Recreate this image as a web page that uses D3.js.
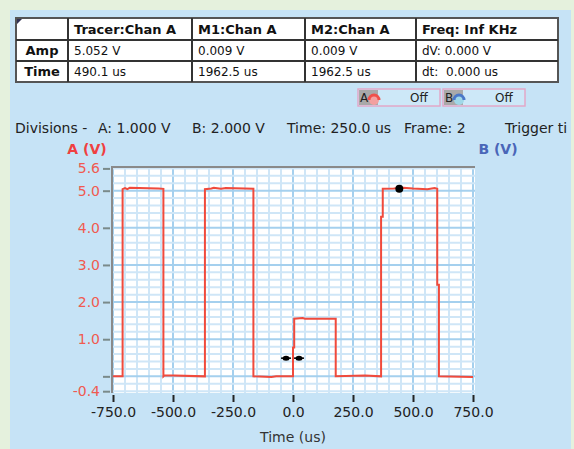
<!DOCTYPE html>
<html>
<head>
<meta charset="utf-8">
<script src="https://cdn.jsdelivr.net/npm/d3@7"></script>
<style>
  body { margin: 0; background: #e5f1dd; }
  svg { display: block; font-family: "DejaVu Sans", sans-serif; }
  text { white-space: pre; }
</style>
</head>
<body>
<script>
// waveform on channel A, breakpoints (time in us, volts)
let traceTime = [-750, -710, -710, -700, -690, -680, -560, -540, -540, -535, -367, -367, -340, -330, -300, -280, -200, -165,
  -165, -90, -70, 0, 0, 5, 5, 40, 50, 178, 178, 300, 367, 367, 374, 374, 420, 460, 500, 560, 590, 601, 601, 608, 608, 750];
let traceVolt = [0, 0, 5.04, 5.07, 5.04, 5.08, 5.06, 5.05, 0, 0.03, 0, 5.04, 5.06, 5.08, 5.05, 5.07, 5.06, 5.05,
  0, -0.02, 0, 0, 0.78, 0.78, 1.55, 1.57, 1.55, 1.55, 0, 0.02, 0, 4.3, 4.3, 5.05, 5.06, 5.08, 5.06, 5.04, 5.07, 5.05, 2.47, 2.47, 0, -0.02];

let tracerPoint = { t: 443, v: 5.05 };
let markerTimes = [-29, 25];
let markerVolt = 0.49;

let xTicks = [-750, -500, -250, 0, 250, 500, 750];
let yTicks = [5.6, 5.0, 4.0, 3.0, 2.0, 1.0, 0.0, -0.4];
let yTickLabels = ['5.6', '5.0', '4.0', '3.0', '2.0', '1.0', '', '-0.4'];

let tableHeader = ['', 'Tracer:Chan A', 'M1:Chan A', 'M2:Chan A', 'Freq: Inf KHz'];
let tableAmp = ['Amp', '5.052 V', '0.009 V', '0.009 V', 'dV: 0.000 V'];
let tableTime = ['Time', '490.1 us', '1962.5 us', '1962.5 us', 'dt:  0.000 us'];

let divisionTexts = ['Divisions -', 'A: 1.000 V', 'B: 2.000 V', 'Time: 250.0 us', 'Frame: 2', 'Trigger ti'];

var draw = function() {
  let width = 574, height = 449;
  let plot = { left: 112, right: 475, top: 167, bottom: 393 };

  let svg = d3.select('body').append('svg')
    .attr('width', width)
    .attr('height', height);

  // blue panel
  svg.append('rect')
    .attr('x', 10).attr('y', 10)
    .attr('width', 561).attr('height', height - 10)
    .attr('fill', '#c6e3f6');

  // readout table
  let colX = [16, 68, 192, 305, 416, 558];
  let rowY = [18, 40, 61, 82];
  let table = svg.append('g');
  table.append('rect')
    .attr('x', colX[0]).attr('y', rowY[0])
    .attr('width', colX[5] - colX[0]).attr('height', rowY[3] - rowY[0])
    .attr('fill', '#fff').attr('stroke', '#555').attr('stroke-width', 2);
  table.selectAll('line.col').data(colX.slice(1, 5)).enter().append('line')
    .attr('x1', d => d).attr('x2', d => d)
    .attr('y1', rowY[0]).attr('y2', rowY[3])
    .attr('stroke', '#333').attr('stroke-width', 2);
  table.selectAll('line.row').data(rowY.slice(1, 3)).enter().append('line')
    .attr('x1', colX[0]).attr('x2', colX[5])
    .attr('y1', d => d).attr('y2', d => d)
    .attr('stroke', '#333').attr('stroke-width', 2);
  table.append('path')
    .attr('d', `M${colX[0] + 1},${rowY[0] + 1}h5l-5,5z`)
    .attr('fill', '#335');

  let rows = [tableHeader, tableAmp, tableTime];
  rows.forEach((row, r) => {
    row.forEach((txt, c) => {
      let t = table.append('text')
        .attr('y', rowY[r] + (r == 0 ? 16 : 15))
        .attr('fill', '#111')
        .style('font-size', r == 0 ? '13px' : '12px')
        .style('font-weight', (r == 0 || c == 0) ? 'bold' : 'normal')
        .text(txt);
      if (c == 0) {
        t.attr('x', (colX[0] + colX[1]) / 2).attr('text-anchor', 'middle').style('font-size', '13px');
      } else {
        t.attr('x', colX[c] + 6);
      }
    });
  });

  // A / B Off buttons
  let buttons = [{ x: 358, label: 'A', col: '#f0504a', low: '#f3a0a0' }, { x: 443, label: 'B', col: '#4a78c8', low: '#a0d8e8' }];
  buttons.forEach(b => {
    let g = svg.append('g');
    g.append('rect').attr('x', b.x).attr('y', 89).attr('width', 82).attr('height', 17)
      .attr('fill', '#cde8f8').attr('stroke', '#e2a8c8').attr('stroke-width', 1.5);
    g.append('rect').attr('x', b.x + 1).attr('y', 90).attr('width', 19).attr('height', 15)
      .attr('fill', '#a9a9a9');
    g.append('text').attr('x', b.x + 2).attr('y', 102).style('font-size', '12px').attr('fill', '#222').text(b.label);
    g.append('circle').attr('cx', b.x + 16).attr('cy', 100).attr('r', 5).attr('fill', b.low);
    g.append('path').attr('d', `M${b.x + 11},100 a5,5 0 0 1 10,0`)
      .attr('fill', 'none').attr('stroke', b.col).attr('stroke-width', 3);
    g.append('text').attr('x', b.x + 52).attr('y', 102).style('font-size', '12px').attr('fill', '#222').text('Off');
  });

  // divisions line
  let divX = [15, 98, 192, 287, 404, 505];
  svg.selectAll('text.div').data(divisionTexts).enter().append('text')
    .attr('x', (d, i) => divX[i]).attr('y', 133)
    .attr('fill', '#222')
    .style('font-size', '14px')
    .text(d => d);

  // axis titles
  svg.append('text').attr('x', 87).attr('y', 154).attr('text-anchor', 'middle')
    .attr('fill', '#f04040').style('font-size', '14px').style('font-weight', 'bold').text('A (V)');
  svg.append('text').attr('x', 498).attr('y', 154).attr('text-anchor', 'middle')
    .attr('fill', '#4a66b8').style('font-size', '14px').style('font-weight', 'bold').text('B (V)');
  svg.append('text').attr('x', 293).attr('y', 442).attr('text-anchor', 'middle')
    .attr('fill', '#333').style('font-size', '14px').text('Time (us)');

  // scales
  let x = d3.scaleLinear().domain([-750, 750]).range([113, 473]);
  let y = d3.scaleLinear().domain([-0.4, 5.6]).range([391.2, 168.4]);

  svg.append('rect')
    .attr('x', plot.left).attr('y', plot.top)
    .attr('width', plot.right - plot.left).attr('height', plot.bottom - plot.top)
    .attr('fill', '#fff');

  // grid
  let minorX = d3.range(-750, 751, 50);
  let minorY = d3.range(-2, 29).map(d => d * 0.2);
  let grid = svg.append('g');
  grid.selectAll('line.vx').data(minorX).enter().append('line')
    .attr('x1', d => x(d)).attr('x2', d => x(d))
    .attr('y1', plot.top).attr('y2', plot.bottom)
    .attr('stroke', d => d % 250 == 0 ? '#a5d0ee' : '#cfe6f7')
    .attr('stroke-width', 2);
  grid.selectAll('line.hy').data(minorY).enter().append('line')
    .attr('x1', plot.left).attr('x2', plot.right)
    .attr('y1', d => y(d)).attr('y2', d => y(d))
    .attr('stroke', d => Math.abs(d - Math.round(d)) < 0.01 ? '#a5d0ee' : '#cfe6f7')
    .attr('stroke-width', 2);

  // frame
  svg.append('path')
    .attr('d', `M${plot.left},${plot.bottom}V${plot.top}H${plot.right}`)
    .attr('fill', 'none').attr('stroke', '#8a8a8a').attr('stroke-width', 2);

  // y axis
  let yAxis = d3.axisLeft(y).tickValues(yTicks).tickSize(7).tickPadding(3)
    .tickFormat((d, i) => yTickLabels[i]);
  let ya = svg.append('g').attr('transform', `translate(${plot.left - 2},0)`).call(yAxis);
  ya.select('.domain').remove();
  ya.selectAll('line').attr('stroke', '#7a8a8a').attr('stroke-width', 2);
  ya.selectAll('text').attr('fill', '#f05a50').style('font-size', '14px').style('font-family', '"DejaVu Sans", sans-serif');

  // x axis
  let xAxis = d3.axisBottom(x).tickValues(xTicks).tickSize(7).tickPadding(5)
    .tickFormat(d3.format('.1f'));
  let xa = svg.append('g').attr('transform', `translate(0,${plot.bottom + 2})`).call(xAxis);
  xa.select('.domain').remove();
  xa.selectAll('line').attr('stroke', '#222').attr('stroke-width', 2);
  xa.selectAll('text').attr('fill', '#222').style('font-size', '14px').style('font-family', '"DejaVu Sans", sans-serif')
    .text(d => d3.format('.1f')(d).replace('−', '-'));

  // trace
  let line = d3.line().x(d => x(d[0])).y(d => y(d[1]));
  svg.append('path')
    .datum(traceTime.map((t, i) => [t, traceVolt[i]]))
    .attr('d', line)
    .attr('fill', 'none').attr('stroke', '#f04a3c').attr('stroke-width', 2);

  // markers
  svg.append('circle')
    .attr('cx', x(tracerPoint.t)).attr('cy', y(tracerPoint.v)).attr('r', 4)
    .attr('fill', '#000');
  markerTimes.forEach(t => {
    svg.append('line')
      .attr('x1', x(t) - 5).attr('x2', x(t) + 5)
      .attr('y1', y(markerVolt)).attr('y2', y(markerVolt))
      .attr('stroke', '#000').attr('stroke-width', 1.5);
    svg.append('ellipse')
      .attr('cx', x(t)).attr('cy', y(markerVolt)).attr('rx', 3.5).attr('ry', 2.5)
      .attr('fill', '#000');
  });
}

draw();
</script>
</body>
</html>
